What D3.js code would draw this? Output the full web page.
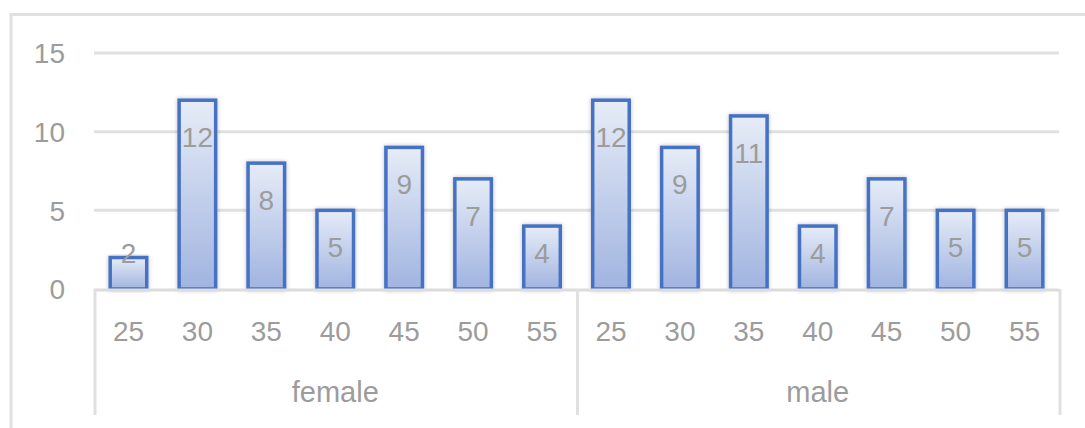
<!DOCTYPE html>
<html><head><meta charset="utf-8">
<script src="https://cdn.jsdelivr.net/npm/d3@7"></script>
<style>
html,body{margin:0;padding:0;background:#fff;}
svg{display:block;}
text{font-family:"Liberation Sans",Arial,sans-serif;fill:#9c9c9c;}
</style></head><body>
<svg id="chart" width="1085" height="428"></svg>
<script>
const groups = ["female", "male"];
const ages = ["25", "30", "35", "40", "45", "50", "55"];
const femaleValues = [2, 12, 8, 5, 9, 7, 4];
const maleValues = [12, 9, 11, 4, 7, 5, 5];
const yTicks = [0, 5, 10, 15];

const seriesByGroup = { female: femaleValues, male: maleValues };
const rows = [];
groups.forEach(g => ages.forEach((a, i) => rows.push({ group: g, age: a, key: g + "|" + a, value: seriesByGroup[g][i] })));

const svg = d3.select("#chart");
const W = 1085, H = 428;
const plotL = 94, plotR = 1059, plotT = 53, plotB = 289;

// outer chart border
svg.append("rect").attr("x", 11).attr("y", 14.5).attr("width", W + 10).attr("height", H + 10)
  .attr("fill", "none").attr("stroke", "#e0e0e0").attr("stroke-width", 3);

const defs = svg.append("defs");
const grad = defs.append("linearGradient").attr("id", "barGrad").attr("x1", 0).attr("y1", 0).attr("x2", 0).attr("y2", 1);
grad.append("stop").attr("offset", "0%").attr("stop-color", "#e6ecf7");
grad.append("stop").attr("offset", "100%").attr("stop-color", "#a1b4e0");
const f = defs.append("filter").attr("id", "shadow").attr("x", "-30%").attr("y", "-10%").attr("width", "160%").attr("height", "120%");
f.append("feDropShadow").attr("dx", 0).attr("dy", 0).attr("stdDeviation", 2).attr("flood-color", "#000").attr("flood-opacity", 0.25);

const y = d3.scaleLinear().domain([0, 15]).range([plotB, plotT]);
const x = d3.scaleBand().domain(rows.map(d => d.key)).range([plotL, plotR]).paddingInner(0.47).paddingOuter(0.235);
const gx = d3.scaleBand().domain(groups).range([plotL, plotR]);

// gridlines
svg.append("g").selectAll("line").data(yTicks.filter(t => t > 0)).join("line")
  .attr("x1", plotL).attr("x2", plotR).attr("y1", d => y(d)).attr("y2", d => y(d))
  .attr("stroke", "#e0e0e0").attr("stroke-width", 3);

// y axis labels
const yAxis = d3.axisLeft(y).tickValues(yTicks).tickSize(0).tickPadding(0).tickFormat(d3.format("d"));
const ya = svg.append("g").attr("transform", "translate(65,0)").call(yAxis);
ya.select(".domain").remove();
ya.selectAll("text").attr("font-size", 28).attr("fill", "#9c9c9c").attr("font-family", "Liberation Sans, Arial, sans-serif").attr("dy", "0.35em");

// bars
svg.append("g").selectAll("rect").data(rows).join("rect")
  .attr("x", d => x(d.key)).attr("width", x.bandwidth())
  .attr("y", d => y(d.value)).attr("height", d => y(0) - y(d.value))
  .attr("fill", "url(#barGrad)").attr("stroke", "#4472c4").attr("stroke-width", 3.5)
  .attr("filter", "url(#shadow)");

// x axis baseline
svg.append("line").attr("x1", plotL).attr("x2", plotR).attr("y1", y(0) + 1).attr("y2", y(0) + 1)
  .attr("stroke", "#dcdcdc").attr("stroke-width", 3);

// group separators
const seps = [plotL].concat(groups.map(g => gx(g) + gx.bandwidth()));
svg.append("g").selectAll("line").data(seps).join("line")
  .attr("x1", d => d + 1).attr("x2", d => d + 1).attr("y1", y(0)).attr("y2", 415)
  .attr("stroke", "#e0e0e0").attr("stroke-width", 3);

// data labels
svg.append("g").selectAll("text").data(rows).join("text")
  .attr("x", d => x(d.key) + x.bandwidth() / 2)
  .attr("y", d => Math.min(y(d.value) + 37, y(0) - 36))
  .attr("dy", "0.35em").attr("text-anchor", "middle").attr("font-size", 28)
  .text(d => d.value);

// category labels
svg.append("g").selectAll("text").data(rows).join("text")
  .attr("x", d => x(d.key) + x.bandwidth() / 2).attr("y", 331)
  .attr("dy", "0.35em").attr("text-anchor", "middle").attr("font-size", 28)
  .text(d => d.age);

// group labels
svg.append("g").selectAll("text").data(groups).join("text")
  .attr("x", d => gx(d) + gx.bandwidth() / 2).attr("y", 392)
  .attr("dy", "0.35em").attr("text-anchor", "middle").attr("font-size", 29)
  .text(d => d);
</script>
</body></html>
